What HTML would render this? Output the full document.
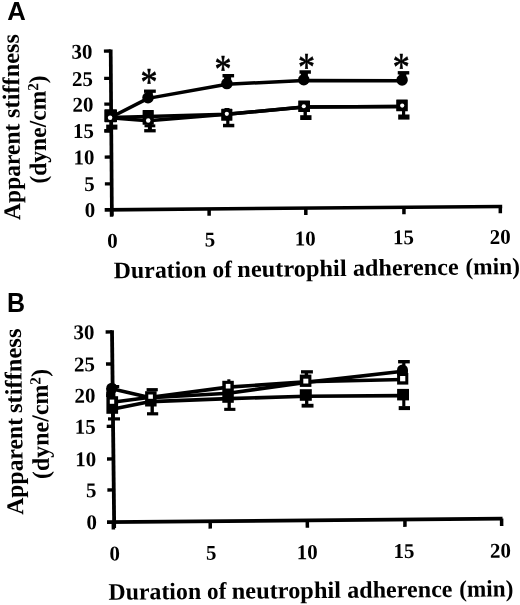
<!DOCTYPE html>
<html lang="en"><head><meta charset="utf-8"><title>Apparent stiffness vs duration of neutrophil adherence</title>
<style>html,body{margin:0;padding:0;background:#fff}body{width:520px;height:605px;overflow:hidden}svg{display:block;filter:grayscale(1)}text{fill:#000}</style></head><body>
<svg width="520" height="605" viewBox="0 0 520 605">
<rect width="520" height="605" fill="#fff"/>
<text transform="translate(7.20 19.90)" font-family='"Liberation Sans", "DejaVu Sans", sans-serif' font-size="25.7" font-weight="bold" text-anchor="start">A</text>
<line x1="110.70" y1="49.50" x2="111.90" y2="215.80" stroke="#000" stroke-width="3.7" stroke-linecap="butt"/>
<line x1="104.70" y1="209.85" x2="502.20" y2="206.45" stroke="#000" stroke-width="3.6" stroke-linecap="butt"/>
<line x1="103.91" y1="51.05" x2="110.71" y2="51.00" stroke="#000" stroke-width="3.3" stroke-linecap="butt"/>
<line x1="104.11" y1="78.45" x2="110.91" y2="78.40" stroke="#000" stroke-width="3.3" stroke-linecap="butt"/>
<line x1="104.29" y1="104.15" x2="111.09" y2="104.10" stroke="#000" stroke-width="3.3" stroke-linecap="butt"/>
<line x1="104.49" y1="130.65" x2="111.29" y2="130.60" stroke="#000" stroke-width="3.3" stroke-linecap="butt"/>
<line x1="104.68" y1="157.05" x2="111.48" y2="157.00" stroke="#000" stroke-width="3.3" stroke-linecap="butt"/>
<line x1="104.87" y1="183.95" x2="111.67" y2="183.90" stroke="#000" stroke-width="3.3" stroke-linecap="butt"/>
<line x1="111.50" y1="209.80" x2="111.55" y2="216.70" stroke="#000" stroke-width="3.5" stroke-linecap="butt"/>
<line x1="209.10" y1="208.96" x2="209.15" y2="215.86" stroke="#000" stroke-width="3.5" stroke-linecap="butt"/>
<line x1="305.80" y1="208.13" x2="305.85" y2="215.03" stroke="#000" stroke-width="3.5" stroke-linecap="butt"/>
<line x1="403.90" y1="207.28" x2="403.95" y2="214.18" stroke="#000" stroke-width="3.5" stroke-linecap="butt"/>
<line x1="500.30" y1="206.45" x2="500.35" y2="213.35" stroke="#000" stroke-width="3.5" stroke-linecap="butt"/>
<text transform="translate(92.60 58.60) rotate(-0.5)" font-family='"Liberation Serif", "DejaVu Serif", serif' font-size="21" font-weight="bold" text-anchor="end">30</text>
<text transform="translate(93.07 85.90) rotate(-0.5)" font-family='"Liberation Serif", "DejaVu Serif", serif' font-size="21" font-weight="bold" text-anchor="end">25</text>
<text transform="translate(93.50 111.50) rotate(-0.5)" font-family='"Liberation Serif", "DejaVu Serif", serif' font-size="21" font-weight="bold" text-anchor="end">20</text>
<text transform="translate(93.95 137.90) rotate(-0.5)" font-family='"Liberation Serif", "DejaVu Serif", serif' font-size="21" font-weight="bold" text-anchor="end">15</text>
<text transform="translate(94.40 164.20) rotate(-0.5)" font-family='"Liberation Serif", "DejaVu Serif", serif' font-size="21" font-weight="bold" text-anchor="end">10</text>
<text transform="translate(94.86 191.00) rotate(-0.5)" font-family='"Liberation Serif", "DejaVu Serif", serif' font-size="21" font-weight="bold" text-anchor="end">5</text>
<text transform="translate(95.30 216.80) rotate(-0.5)" font-family='"Liberation Serif", "DejaVu Serif", serif' font-size="21" font-weight="bold" text-anchor="end">0</text>
<text transform="translate(112.50 247.70) rotate(-0.5)" font-family='"Liberation Serif", "DejaVu Serif", serif' font-size="21" font-weight="bold" text-anchor="middle">0</text>
<text transform="translate(210.00 246.40) rotate(-0.5)" font-family='"Liberation Serif", "DejaVu Serif", serif' font-size="21" font-weight="bold" text-anchor="middle">5</text>
<text transform="translate(305.30 245.40) rotate(-0.5)" font-family='"Liberation Serif", "DejaVu Serif", serif' font-size="21" font-weight="bold" text-anchor="middle">10</text>
<text transform="translate(403.60 244.20) rotate(-0.5)" font-family='"Liberation Serif", "DejaVu Serif", serif' font-size="21" font-weight="bold" text-anchor="middle">15</text>
<text transform="translate(500.20 243.80) rotate(-0.5)" font-family='"Liberation Serif", "DejaVu Serif", serif' font-size="21" font-weight="bold" text-anchor="middle">20</text>
<text transform="translate(113.83 278.30) rotate(-0.6) scale(1 1.0)" font-family='"Liberation Serif", "DejaVu Serif", serif' font-size="23.7" font-weight="bold"><tspan x="0.00" textLength="92.73" lengthAdjust="spacingAndGlyphs">Duration</tspan> <tspan x="98.58" textLength="19.57" lengthAdjust="spacingAndGlyphs">of</tspan> <tspan x="123.52" textLength="109.35" lengthAdjust="spacingAndGlyphs">neutrophil</tspan> <tspan x="239.16" textLength="105.71" lengthAdjust="spacingAndGlyphs">adherence</tspan> <tspan x="351.76" textLength="54.45" lengthAdjust="spacingAndGlyphs">(min)</tspan></text>
<text transform="translate(20.30 219.90) rotate(-90.5) scale(1 1.0)" font-family='"Liberation Serif", "DejaVu Serif", serif' font-size="24" font-weight="bold"><tspan x="0" textLength="96.3" lengthAdjust="spacingAndGlyphs">Apparent</tspan> <tspan x="102.0" textLength="84" lengthAdjust="spacingAndGlyphs">stiffness</tspan></text>
<text transform="translate(46.30 183.60) rotate(-90.5)" font-family='"Liberation Serif", "DejaVu Serif", serif' font-size="24" font-weight="bold" text-anchor="start" textLength="108.3" lengthAdjust="spacingAndGlyphs">(dyne/cm<tspan font-size="15.5" dy="-7.2">2</tspan><tspan dy="7.2">)</tspan></text>
<polyline points="110.50,117.50 148.00,98.40 227.00,84.30 303.80,80.50 402.00,80.80" fill="none" stroke="#000" stroke-width="3.5" stroke-linejoin="round"/>
<polyline points="110.00,117.40 148.00,116.60 227.00,114.30 304.00,106.90 402.00,106.60" fill="none" stroke="#000" stroke-width="3.5" stroke-linejoin="round"/>
<polyline points="110.00,117.80 148.00,120.80 227.00,114.30 304.00,106.90 402.00,106.60" fill="none" stroke="#000" stroke-width="3.5" stroke-linejoin="round"/>
<line x1="111.00" y1="118.00" x2="111.00" y2="130.00" stroke="#000" stroke-width="2.6" stroke-linecap="butt"/>
<rect x="106.20" y="124.60" width="11.20" height="5.00" rx="0" fill="#000"/>
<rect x="104.30" y="129.30" width="8.10" height="3.40" rx="0" fill="#000"/>
<line x1="149.30" y1="91.00" x2="149.30" y2="97.00" stroke="#000" stroke-width="7" stroke-linecap="butt"/>
<rect x="144.00" y="89.55" width="11.8" height="3.3" fill="#000"/>
<line x1="149.90" y1="120.00" x2="149.90" y2="131.00" stroke="#000" stroke-width="4" stroke-linecap="butt"/>
<rect x="144.50" y="124.40" width="10.80" height="2.90" rx="0" fill="#000"/>
<rect x="144.20" y="129.10" width="11.50" height="3.30" rx="0" fill="#000"/>
<line x1="227.60" y1="76.00" x2="227.60" y2="84.00" stroke="#000" stroke-width="7" stroke-linecap="butt"/>
<rect x="222.50" y="74.00" width="11.6" height="3.4" fill="#000"/>
<line x1="227.80" y1="113.00" x2="227.80" y2="124.50" stroke="#000" stroke-width="3.2" stroke-linecap="butt"/>
<rect x="223.00" y="123.80" width="11.30" height="3.50" rx="0" fill="#000"/>
<line x1="304.40" y1="72.60" x2="304.40" y2="80.00" stroke="#000" stroke-width="7" stroke-linecap="butt"/>
<rect x="299.50" y="70.25" width="11.4" height="3.5" fill="#000"/>
<line x1="305.20" y1="106.00" x2="305.20" y2="117.00" stroke="#000" stroke-width="3.4" stroke-linecap="butt"/>
<rect x="300.20" y="115.20" width="11.30" height="4.80" rx="0" fill="#000"/>
<line x1="402.80" y1="73.40" x2="402.80" y2="80.00" stroke="#000" stroke-width="7" stroke-linecap="butt"/>
<rect x="397.75" y="71.10" width="11.5" height="3.4" fill="#000"/>
<line x1="403.60" y1="106.00" x2="403.60" y2="117.00" stroke="#000" stroke-width="3.2" stroke-linecap="butt"/>
<rect x="398.20" y="114.50" width="11.30" height="5.10" rx="0" fill="#000"/>
<circle cx="148.00" cy="97.80" r="5.75" fill="#000"/>
<circle cx="226.90" cy="83.60" r="5.75" fill="#000"/>
<circle cx="303.80" cy="79.80" r="5.75" fill="#000"/>
<circle cx="402.10" cy="80.00" r="5.75" fill="#000"/>
<rect x="104.30" y="109.20" width="12.70" height="13.10" rx="0.8" fill="#000"/>
<circle cx="110.10" cy="117.70" r="2.25" fill="#fff"/>
<rect x="142.60" y="110.00" width="11.20" height="14.80" rx="0.5" fill="#000"/>
<circle cx="148.20" cy="120.40" r="2.25" fill="#fff"/>
<rect x="221.20" y="108.80" width="11.20" height="12.00" rx="0.6" fill="#000"/>
<rect x="224.50" y="108.00" width="5.00" height="1.50" rx="0" fill="#000"/>
<circle cx="226.80" cy="113.80" r="2.10" fill="#fff"/>
<rect x="298.20" y="100.40" width="11.80" height="11.50" rx="0.5" fill="#000"/>
<circle cx="303.80" cy="106.30" r="2.05" fill="#fff"/>
<rect x="396.20" y="99.60" width="11.60" height="11.60" rx="0.5" fill="#000"/>
<circle cx="402.20" cy="105.60" r="2.10" fill="#fff"/>
<text transform="translate(149.10 95.34) scale(1 1.2)" font-family='"Liberation Serif", "DejaVu Serif", serif' font-size="34.0" font-weight="normal" text-anchor="middle" stroke="#000" stroke-width="0.55">*</text>
<text transform="translate(223.10 81.94) scale(1 1.2)" font-family='"Liberation Serif", "DejaVu Serif", serif' font-size="34.0" font-weight="normal" text-anchor="middle" stroke="#000" stroke-width="0.55">*</text>
<text transform="translate(306.40 79.74) scale(1 1.2)" font-family='"Liberation Serif", "DejaVu Serif", serif' font-size="34.0" font-weight="normal" text-anchor="middle" stroke="#000" stroke-width="0.55">*</text>
<text transform="translate(401.30 80.44) scale(1 1.2)" font-family='"Liberation Serif", "DejaVu Serif", serif' font-size="34.0" font-weight="normal" text-anchor="middle" stroke="#000" stroke-width="0.55">*</text>
<text transform="translate(7.10 311.90) scale(1 1.09)" font-family='"Liberation Sans", "DejaVu Sans", sans-serif' font-size="25" font-weight="bold" text-anchor="start">B</text>
<line x1="112.00" y1="330.30" x2="114.20" y2="528.00" stroke="#000" stroke-width="3.8" stroke-linecap="butt"/>
<line x1="107.00" y1="522.20" x2="502.50" y2="518.60" stroke="#000" stroke-width="3.8" stroke-linecap="butt"/>
<line x1="105.62" y1="331.95" x2="112.02" y2="331.90" stroke="#000" stroke-width="3.4" stroke-linecap="butt"/>
<line x1="105.98" y1="364.05" x2="112.38" y2="364.00" stroke="#000" stroke-width="3.4" stroke-linecap="butt"/>
<line x1="106.32" y1="395.35" x2="112.72" y2="395.30" stroke="#000" stroke-width="3.4" stroke-linecap="butt"/>
<line x1="106.67" y1="426.35" x2="113.07" y2="426.30" stroke="#000" stroke-width="3.4" stroke-linecap="butt"/>
<line x1="107.03" y1="458.95" x2="113.43" y2="458.90" stroke="#000" stroke-width="3.4" stroke-linecap="butt"/>
<line x1="107.38" y1="489.95" x2="113.78" y2="489.90" stroke="#000" stroke-width="3.4" stroke-linecap="butt"/>
<line x1="113.30" y1="522.10" x2="113.37" y2="529.50" stroke="#000" stroke-width="3.5" stroke-linecap="butt"/>
<line x1="210.20" y1="521.23" x2="210.27" y2="528.63" stroke="#000" stroke-width="3.5" stroke-linecap="butt"/>
<line x1="307.30" y1="520.35" x2="307.37" y2="527.75" stroke="#000" stroke-width="3.5" stroke-linecap="butt"/>
<line x1="404.90" y1="519.48" x2="404.97" y2="526.88" stroke="#000" stroke-width="3.5" stroke-linecap="butt"/>
<line x1="501.60" y1="518.61" x2="501.67" y2="526.01" stroke="#000" stroke-width="3.5" stroke-linecap="butt"/>
<text transform="translate(94.62 339.10) rotate(-0.5)" font-family='"Liberation Serif", "DejaVu Serif", serif' font-size="21" font-weight="bold" text-anchor="end">30</text>
<text transform="translate(95.01 371.22) rotate(-0.5)" font-family='"Liberation Serif", "DejaVu Serif", serif' font-size="21" font-weight="bold" text-anchor="end">25</text>
<text transform="translate(95.38 402.53) rotate(-0.5)" font-family='"Liberation Serif", "DejaVu Serif", serif' font-size="21" font-weight="bold" text-anchor="end">20</text>
<text transform="translate(95.75 433.55) rotate(-0.5)" font-family='"Liberation Serif", "DejaVu Serif", serif' font-size="21" font-weight="bold" text-anchor="end">15</text>
<text transform="translate(96.14 466.17) rotate(-0.5)" font-family='"Liberation Serif", "DejaVu Serif", serif' font-size="21" font-weight="bold" text-anchor="end">10</text>
<text transform="translate(96.52 497.18) rotate(-0.5)" font-family='"Liberation Serif", "DejaVu Serif", serif' font-size="21" font-weight="bold" text-anchor="end">5</text>
<text transform="translate(96.90 529.20) rotate(-0.5)" font-family='"Liberation Serif", "DejaVu Serif", serif' font-size="21" font-weight="bold" text-anchor="end">0</text>
<text transform="translate(114.75 560.40) rotate(-0.5)" font-family='"Liberation Serif", "DejaVu Serif", serif' font-size="21" font-weight="bold" text-anchor="middle">0</text>
<text transform="translate(211.20 559.80) rotate(-0.5)" font-family='"Liberation Serif", "DejaVu Serif", serif' font-size="21" font-weight="bold" text-anchor="middle">5</text>
<text transform="translate(307.30 559.10) rotate(-0.5)" font-family='"Liberation Serif", "DejaVu Serif", serif' font-size="21" font-weight="bold" text-anchor="middle">10</text>
<text transform="translate(404.00 558.00) rotate(-0.5)" font-family='"Liberation Serif", "DejaVu Serif", serif' font-size="21" font-weight="bold" text-anchor="middle">15</text>
<text transform="translate(500.50 557.60) rotate(-0.5)" font-family='"Liberation Serif", "DejaVu Serif", serif' font-size="21" font-weight="bold" text-anchor="middle">20</text>
<text transform="translate(108.48 599.70) rotate(-0.47) scale(1 1.0)" font-family='"Liberation Serif", "DejaVu Serif", serif' font-size="23.7" font-weight="bold"><tspan x="0.00" textLength="92.68" lengthAdjust="spacingAndGlyphs">Duration</tspan> <tspan x="98.64" textLength="19.36" lengthAdjust="spacingAndGlyphs">of</tspan> <tspan x="123.37" textLength="109.15" lengthAdjust="spacingAndGlyphs">neutrophil</tspan> <tspan x="238.75" textLength="105.36" lengthAdjust="spacingAndGlyphs">adherence</tspan> <tspan x="350.81" textLength="54.14" lengthAdjust="spacingAndGlyphs">(min)</tspan></text>
<text transform="translate(23.30 514.70) rotate(-90.75) scale(1 1.0)" font-family='"Liberation Serif", "DejaVu Serif", serif' font-size="24" font-weight="bold"><tspan x="0" textLength="96.8" lengthAdjust="spacingAndGlyphs">Apparent</tspan> <tspan x="101.7" textLength="84.5" lengthAdjust="spacingAndGlyphs">stiffness</tspan></text>
<text transform="translate(49.00 479.00) rotate(-90.75)" font-family='"Liberation Serif", "DejaVu Serif", serif' font-size="24" font-weight="bold" text-anchor="start" textLength="110.2" lengthAdjust="spacingAndGlyphs">(dyne/cm<tspan font-size="15.5" dy="-7.2">2</tspan><tspan dy="7.2">)</tspan></text>
<polyline points="111.80,388.80 150.60,397.80 228.30,393.30 305.80,382.40 403.00,371.30" fill="none" stroke="#000" stroke-width="3.6" stroke-linejoin="round"/>
<polyline points="112.00,402.20 150.60,397.30 228.30,387.10 305.80,381.80 402.80,379.50" fill="none" stroke="#000" stroke-width="3.6" stroke-linejoin="round"/>
<polyline points="112.00,409.20 150.60,401.60 228.30,398.60 305.80,396.30 403.00,395.60" fill="none" stroke="#000" stroke-width="3.6" stroke-linejoin="round"/>
<circle cx="111.80" cy="388.30" r="5.6" fill="#000"/>
<rect x="106.40" y="388.30" width="8.20" height="8.70" rx="0" fill="#000"/>
<rect x="111.00" y="385.00" width="8.20" height="3.10" rx="0" fill="#000"/>
<rect x="106.40" y="396.20" width="11.70" height="17.60" rx="0" fill="#000"/>
<rect x="106.40" y="392.00" width="9.00" height="5.00" rx="0" fill="#000"/>
<rect x="109.80" y="399.60" width="4.40" height="4.20" fill="#fff"/>
<line x1="113.10" y1="413.00" x2="113.10" y2="418.00" stroke="#000" stroke-width="3.2" stroke-linecap="butt"/>
<rect x="108.00" y="417.30" width="12.00" height="3.20" rx="0" fill="#000"/>
<rect x="146.60" y="388.10" width="11.20" height="3.20" rx="0" fill="#000"/>
<rect x="145.10" y="391.20" width="11.50" height="15.30" rx="0" fill="#000"/>
<rect x="148.30" y="394.50" width="4.60" height="4.30" fill="#fff"/>
<line x1="152.20" y1="406.00" x2="152.20" y2="413.00" stroke="#000" stroke-width="3.4" stroke-linecap="butt"/>
<rect x="147.00" y="412.20" width="11.20" height="3.20" rx="0" fill="#000"/>
<rect x="227.30" y="379.30" width="3.10" height="1.70" rx="0" fill="#000"/>
<rect x="222.30" y="380.80" width="11.50" height="22.00" rx="0" fill="#000"/>
<rect x="225.80" y="383.90" width="4.60" height="4.60" fill="#fff"/>
<line x1="229.20" y1="402.00" x2="229.20" y2="408.00" stroke="#000" stroke-width="3.3" stroke-linecap="butt"/>
<rect x="224.20" y="407.80" width="11.20" height="3.10" rx="0" fill="#000"/>
<rect x="301.00" y="370.20" width="11.90" height="3.30" rx="0" fill="#000"/>
<line x1="306.40" y1="373.00" x2="306.40" y2="375.00" stroke="#000" stroke-width="3.4" stroke-linecap="butt"/>
<rect x="299.80" y="374.60" width="11.60" height="12.30" rx="0" fill="#000"/>
<rect x="303.30" y="378.70" width="5.00" height="4.80" fill="#fff"/>
<rect x="299.80" y="389.20" width="12.00" height="11.60" rx="0" fill="#000"/>
<line x1="306.70" y1="400.00" x2="306.70" y2="404.50" stroke="#000" stroke-width="3.3" stroke-linecap="butt"/>
<rect x="301.60" y="403.80" width="11.90" height="3.80" rx="0" fill="#000"/>
<rect x="398.10" y="360.00" width="11.70" height="3.40" rx="0" fill="#000"/>
<line x1="403.80" y1="363.00" x2="403.80" y2="366.00" stroke="#000" stroke-width="3.2" stroke-linecap="butt"/>
<circle cx="402.50" cy="370.00" r="5.5" fill="#000"/>
<rect x="397.10" y="370.00" width="10.80" height="5.00" rx="0" fill="#000"/>
<rect x="397.10" y="373.00" width="11.20" height="11.60" rx="0" fill="#000"/>
<rect x="400.10" y="376.00" width="5.20" height="5.30" fill="#fff"/>
<rect x="397.10" y="388.90" width="11.90" height="11.50" rx="0" fill="#000"/>
<line x1="403.80" y1="400.00" x2="403.80" y2="406.50" stroke="#000" stroke-width="3.1" stroke-linecap="butt"/>
<rect x="398.70" y="406.10" width="11.30" height="4.00" rx="0" fill="#000"/>
</svg></body></html>
